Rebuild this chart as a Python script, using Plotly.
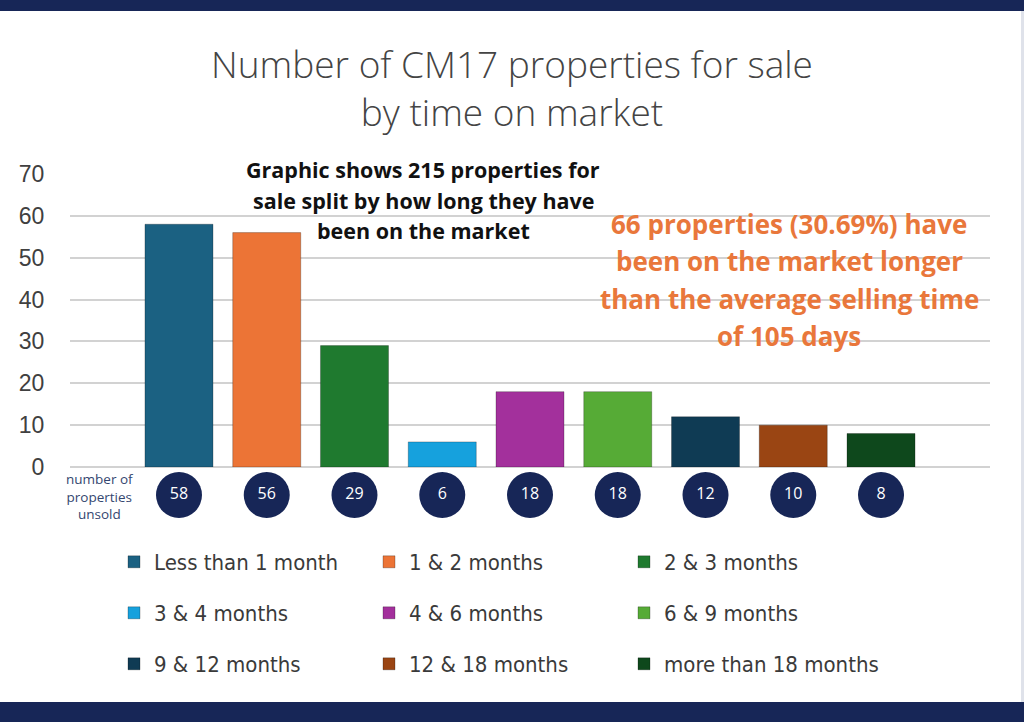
import plotly.graph_objects as go

# data
categories = ["Less than 1 month", "1 & 2 months", "2 & 3 months",
              "3 & 4 months", "4 & 6 months", "6 & 9 months",
              "9 & 12 months", "12 & 18 months", "more than 18 months"]
unsold = [58, 56, 29, 6, 18, 18, 12, 10, 8]
bar_colors = ["#1b6182", "#ec7436", "#1f7a2f", "#16a1dd", "#a3309c",
              "#56ab36", "#0f3b54", "#9a4513", "#0e481c"]
y_ticks = [0, 10, 20, 30, 40, 50, 60, 70]

title_text = "Number of CM17 properties for sale<br>by time on market"
note_lines = ["Graphic shows 215 properties for",
              "sale split by how long they have",
              "been on the market"]
orange_lines = ["66 properties (30.69%) have",
                "been on the market longer",
                "than the average selling time",
                "of 105 days"]
row_label = "number of<br>properties<br>unsold"

W, H = 1024, 722
navy = "#172657"


def py(px):
    # pixel row -> paper fraction
    return 1 - px / H


fig = go.Figure()

legends = ["legend", "legend2", "legend3"]
for i, (cat, val, col) in enumerate(zip(categories, unsold, bar_colors)):
    fig.add_trace(go.Bar(
        x=[i], y=[val], name=cat, width=0.775,
        marker=dict(color=col, line=dict(color="rgba(0,0,0,0.25)", width=1)),
        legend=legends[i // 3],
        hoverinfo="x+y",
    ))

# circles with the counts under each bar
fig.add_trace(go.Scatter(
    x=list(range(len(unsold))), y=[0] * len(unsold),
    mode="markers+text", text=[str(v) for v in unsold],
    textposition="middle center",
    textfont=dict(family="Open Sans", size=16, color="white"),
    marker=dict(size=46, color=navy),
    yaxis="y2", showlegend=False, cliponaxis=False,
))

leg_common = dict(orientation="h", xanchor="left", yanchor="middle",
                  bgcolor="rgba(0,0,0,0)", entrywidth=210, entrywidthmode="pixels",
                  font=dict(family="DejaVu Sans Condensed, Roboto, sans-serif",
                            size=22, color="#3a3a3a"),
                  itemclick=False, itemdoubleclick=False)

fig.update_layout(
    width=W, height=H,
    margin=dict(l=0, r=0, t=0, b=0),
    paper_bgcolor="white", plot_bgcolor="white",
    barmode="overlay",
    title=dict(text=title_text, x=0.5, xanchor="center", y=py(78), yanchor="middle",
               font=dict(family="Open Sans", size=37, color="#444444", weight=300)),
    xaxis=dict(domain=[70 / W, 990 / W], range=[-1.242, 9.242],
               showticklabels=False, showgrid=False, zeroline=False, anchor="y"),
    yaxis=dict(domain=[py(467), py(174)], range=[0, 70], tickvals=y_ticks,
               showgrid=True, gridcolor="#d2d2d2", gridwidth=1.5,
               zeroline=True, zerolinecolor="#d2d2d2", zerolinewidth=1.5,
               ticks="outside", ticklen=20, tickcolor="rgba(0,0,0,0)",
               tickfont=dict(family="Liberation Sans", size=23, color="#404040"),
               automargin=False),
    yaxis2=dict(domain=[py(518), py(472)], range=[-1, 1], anchor="x",
                showticklabels=False, showgrid=False, zeroline=False),
    legend=dict(x=114 / W, y=py(562), **leg_common),
    legend2=dict(x=114 / W, y=py(613), **leg_common),
    legend3=dict(x=114 / W, y=py(664), **leg_common),
    shapes=[
        dict(type="rect", xref="paper", yref="paper", x0=0, x1=1, y0=py(11), y1=1,
             fillcolor=navy, line=dict(width=0), layer="above"),
        dict(type="rect", xref="paper", yref="paper", x0=0, x1=1, y0=0, y1=py(702),
             fillcolor=navy, line=dict(width=0), layer="above"),
        dict(type="rect", xref="paper", yref="paper", x0=1021 / W, x1=1, y0=py(702), y1=py(11),
             fillcolor="#dfe2ea", line=dict(width=0), layer="above"),
    ],
)

annotations = [dict(text=row_label, xref="paper", yref="paper", x=100 / W, y=py(496),
                    xanchor="center", yanchor="middle", showarrow=False, align="center",
                    font=dict(family="Open Sans", size=13.5, color="#34466f"))]
for k, line in enumerate(note_lines):
    annotations.append(dict(text=line, xref="paper", yref="paper",
                            x=423 / W, y=py(170 + 30.5 * k), xanchor="center", yanchor="middle",
                            showarrow=False,
                            font=dict(family="Open Sans", size=21.5, color="#111111", weight=700)))
for k, line in enumerate(orange_lines):
    annotations.append(dict(text=line, xref="paper", yref="paper",
                            x=789 / W, y=py(224 + 37.5 * k), xanchor="center", yanchor="middle",
                            showarrow=False,
                            font=dict(family="Open Sans", size=26, color="#e9773b", weight=700)))
fig.update_layout(annotations=annotations)

fig.write_html("out.html", config={"displayModeBar": False},
               post_script="document.body.style.margin='0px';")
